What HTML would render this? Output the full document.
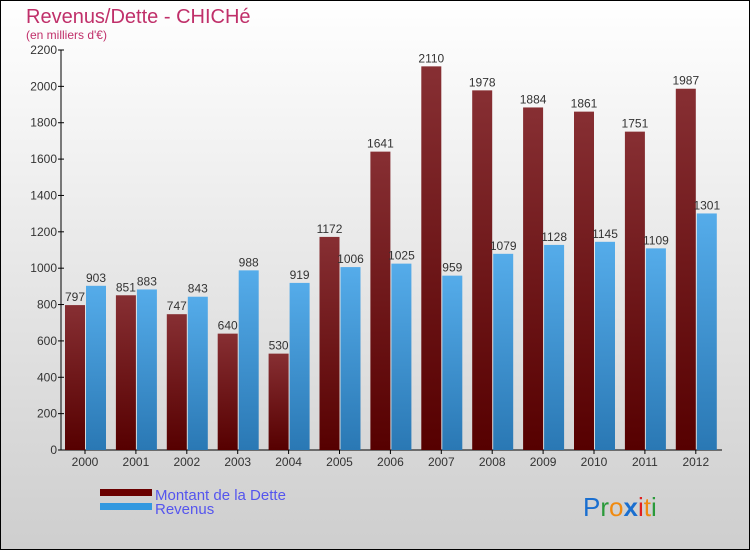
<!DOCTYPE html>
<html><head><meta charset="utf-8"><style>
body{margin:0;}
svg{display:block;font-family:"Liberation Sans","DejaVu Sans",sans-serif;}
</style></head><body>
<svg id="c" width="750" height="550" xmlns="http://www.w3.org/2000/svg">
<defs>
<linearGradient id="bg" x1="0" y1="0" x2="0" y2="1"><stop offset="0" stop-color="#ffffff"/><stop offset="1" stop-color="#cecece"/></linearGradient>
<linearGradient id="gd" x1="0" y1="0" x2="0" y2="1"><stop offset="0" stop-color="#872f33"/><stop offset="1" stop-color="#560000"/></linearGradient>
<linearGradient id="gr" x1="0" y1="0" x2="0" y2="1"><stop offset="0" stop-color="#55acea"/><stop offset="1" stop-color="#2a78b4"/></linearGradient>
</defs>
<rect x="0.5" y="0.5" width="749" height="549" fill="url(#bg)" stroke="#000"/>
<text x="26" y="23" font-size="20" fill="#c0306a">Revenus/Dette - CHICHé</text>
<text x="26" y="39" font-size="12" fill="#c0306a">(en milliers d'€)</text>
<g id="axes"></g>
<g id="bars"></g>
<rect x="100" y="489" width="52" height="7" fill="#6a0000"/>
<rect x="100" y="503" width="52" height="7" fill="#3399e0"/>
<text x="155" y="500" font-size="15" fill="#5555ee">Montant de la Dette</text>
<text x="155" y="514" font-size="15" fill="#5555ee">Revenus</text>
<text x="583" y="516" font-size="26"><tspan fill="#1a6fd0">P</tspan><tspan fill="#2a9a3a">r</tspan><tspan fill="#f08a10">o</tspan><tspan fill="#1a6fd0" font-weight="bold">x</tspan><tspan fill="#e02020">i</tspan><tspan fill="#f08a10">t</tspan><tspan fill="#2a9a3a">i</tspan></text>
</svg>
<script>
const years=["2000","2001","2002","2003","2004","2005","2006","2007","2008","2009","2010","2011","2012"];
const dette=[797,851,747,640,530,1172,1641,2110,1978,1884,1861,1751,1987];
const revenus=[903,883,843,988,919,1006,1025,959,1079,1128,1145,1109,1301];
const yTicks=[0,200,400,600,800,1000,1200,1400,1600,1800,2000,2200];
const NS="http://www.w3.org/2000/svg";
const y0=450,yMax=2200,h=400,x0=85,step=50.9,bw=20;
const Y=v=>y0-v/yMax*h;
const X=i=>x0+i*step;
function el(t,a,p,txt){const e=document.createElementNS(NS,t);for(const k in a)e.setAttribute(k,a[k]);if(txt!=null)e.textContent=txt;p.appendChild(e);return e;}
const ax=document.getElementById('axes'),bg=document.getElementById('bars');
const yl=el('line',{x1:61,y1:50,x2:61,y2:y0,stroke:'#000'},ax);


const xl=el('line',{x1:58,y1:y0,x2:722,y2:y0,stroke:'#000'},ax);


yTicks.forEach(v=>{
 const t=el('line',{x1:58,y1:Y(v),x2:64,y2:Y(v),stroke:'#000'},ax);
 
 
 const l=el('text',{x:57,y:Y(v)+4,'font-size':12,'text-anchor':'end',fill:'#333'},ax,String(v));
 
 
});
years.forEach((yr,i)=>{
 const cx=X(i);
 const t=el('line',{x1:cx,y1:y0,x2:cx,y2:y0+4,stroke:'#000'},ax);
 
 
 const l=el('text',{x:cx,y:y0+16,'font-size':12,'text-anchor':'middle',fill:'#333'},ax,yr);
 
 
 const b1=el('rect',{x:cx-bw,y:Y(dette[i]),width:bw,height:y0-Y(dette[i]),fill:'url(#gd)'},bg);
 
 
 const b2=el('rect',{x:cx+1,y:Y(revenus[i]),width:bw,height:y0-Y(revenus[i]),fill:'url(#gr)'},bg);
 
 
 const v1=el('text',{x:cx-bw/2,y:Y(dette[i])-4,'font-size':12,'text-anchor':'middle',fill:'#333'},bg,String(dette[i]));
 
 
 const v2=el('text',{x:cx+1+bw/2,y:Y(revenus[i])-4,'font-size':12,'text-anchor':'middle',fill:'#333'},bg,String(revenus[i]));
 
 
});
</script>
</body></html>
